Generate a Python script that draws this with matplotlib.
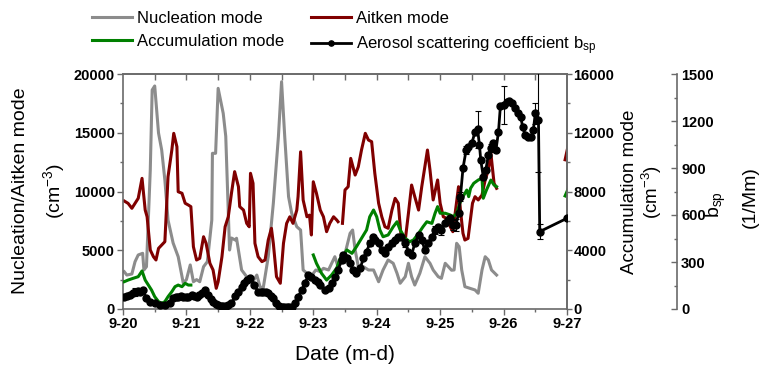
import numpy as np
import matplotlib
matplotlib.use('Agg')
import matplotlib.pyplot as plt

plt.rcParams['font.family'] = ['Liberation Sans', 'DejaVu Sans']
plt.rcParams['mathtext.default'] = 'regular'

# time in days after 9-20 00:00
nuc_t = [0.02, 0.06, 0.14, 0.19, 0.24, 0.31, 0.33, 0.37, 0.43, 0.46, 0.50, 0.56, 0.61, 0.66,
         0.71, 0.79, 0.87, 0.95, 1.00, 1.06, 1.11, 1.16, 1.21, 1.27, 1.33, 1.40, 1.41, 1.46,
         1.50, 1.58, 1.62, 1.68, 1.71, 1.77, 1.79, 1.87, 1.95, 2.03, 2.11, 2.16, 2.21, 2.29,
         2.37, 2.45, 2.50, 2.55, 2.61, 2.66, 2.74, 2.80, 2.84, 2.90, 2.98, 3.04, 3.11, 3.16,
         3.24, 3.29, 3.34, 3.39, 3.45, 3.50, 3.58, 3.62, 3.66, 3.71, 3.79, 3.87, 3.95, 4.03,
         4.10, 4.18, 4.26, 4.32, 4.37, 4.45, 4.50, 4.55, 4.60, 4.68, 4.76, 4.84, 4.89, 4.97,
         5.02, 5.08, 5.13, 5.18, 5.22, 5.26, 5.30, 5.34, 5.39, 5.47, 5.55, 5.60, 5.66, 5.71,
         5.76, 5.81, 5.89]
nuc_v = [3170, 2890, 2980, 4030, 4600, 4740, 3320, 3600, 11830, 18640, 18980, 14980, 13530, 10980,
         7570, 5620, 4450, 2210, 2500, 3750, 2320, 2500, 2320, 3600, 4030, 7570, 13250, 13250,
         18780, 16650, 14700, 5020, 6040, 5870, 6020, 3320, 2750, 2190, 2890, 1900, 1760, 4450,
         8990, 14660, 19340, 14660, 9560, 8140, 7000, 6720, 3320, 3040, 2890, 3320, 3180, 3460,
         3320, 3890, 4450, 3600, 4740, 4700, 6440, 6720, 5020, 3600, 3600, 3320, 3320, 2320,
         3320, 4170, 3890, 3040, 2190, 2750, 3890, 2750, 2040, 3040, 4450, 3890, 3320, 2750,
         2610, 3890, 3600, 3300, 3320, 5590, 5300, 3320, 1900, 1760, 1620, 1340, 3320, 4450,
         4170, 3320, 2890]

ait_t = [0.02, 0.08, 0.14, 0.19, 0.24, 0.30, 0.35, 0.38, 0.43, 0.48, 0.52, 0.56, 0.61, 0.66,
         0.71, 0.77, 0.80, 0.85, 0.87, 0.93, 0.98, 1.03, 1.07, 1.11, 1.16, 1.21, 1.27, 1.31,
         1.37, 1.42, 1.47, 1.50, 1.56, 1.61, 1.66, 1.71, 1.76, 1.82, 1.84, 1.90, 1.95, 1.99,
         2.01, 2.05, 2.08, 2.13, 2.19, 2.24, 2.29, 2.34, 2.37, 2.42, 2.48, 2.53, 2.58, 2.63,
         2.68, 2.74, 2.76, 2.80, 2.84, 2.90, 2.94, 2.97, 3.00, 3.05, 3.11, 3.16, 3.21, 3.26,
         3.32, 3.37, 3.39, 3.42,
         3.46, 3.50, 3.55, 3.59, 3.66, 3.71, 3.76, 3.82, 3.87, 3.92, 3.97, 4.03, 4.08, 4.13,
         4.18, 4.24, 4.29, 4.34, 4.38, 4.45, 4.50, 4.55, 4.60, 4.66, 4.71, 4.76, 4.80, 4.84,
         4.89, 4.96, 5.00, 5.05, 5.10, 5.16, 5.20, 5.23, 5.29, 5.32, 5.36, 5.39, 5.44, 5.47,
         5.51, 5.55, 5.60, 5.66, 5.71, 5.76, 5.80, 5.85, 5.89, 6.00,
         6.97, 7.03]
ait_v = [9190, 8990, 8570, 8990, 9420, 11120, 8420, 7850, 5020, 4450, 4170, 5160, 5450, 5730,
         11260, 13530, 14950, 13810, 9980, 9850, 9000, 8850, 8710, 5300, 4170, 4310, 6150, 5590,
         3890, 3320, 1760, 2320, 4450, 7000, 7850, 9850, 11690, 10410, 8710, 8420, 7290, 7000,
         11550, 10700, 5590, 4450, 4030, 4170, 5870, 6870, 5590, 2750, 2190, 5590, 7290, 7850,
         7290, 8420, 9560, 13380, 9280, 7850, 7990, 6300, 10830, 9850, 8420, 7850, 6580, 7290,
         7850, 7570, 7430, np.nan,
         7290, 10130, 10410, 12820, 11400, 12110, 13530, 14950, 14380, 14240, 11550, 9000, 7850, 7000,
         6870, 8420, 9420, 9000, 6440, 5870, 8140, 10550, 9560, 8420, 10410, 12110, 13530, 11830,
         9280, 10980, 9000, 7850, 7720, 7000, 6580, 7850, 10410, 8420, 6440, 5870, 6010, 7290,
         9000, 9560, 9280, 9700, 10980, 11830, 13250, 10700, 10270, np.nan,
         12700, 14200]

acc_t = [0.02, 0.08, 0.16, 0.24, 0.30, 0.35, 0.40, 0.45, 0.50, 0.56, 0.61, 0.66, 0.71, 0.77,
         0.82, 0.87, 0.93, 0.98, 1.03, 1.07, 2.00,
         3.00, 3.05, 3.13, 3.21, 3.29, 3.37, 3.42, 3.48, 3.53, 3.61, 3.68, 3.76, 3.84, 3.89,
         3.95, 4.00, 4.05, 4.10, 4.18, 4.26, 4.32, 4.37, 4.45, 4.52, 4.58, 4.66, 4.73, 4.79,
         4.87, 4.92, 4.96, 5.00, 5.08, 5.16, 5.21, 5.26, 5.31, 5.36, 5.42, 5.45, 5.48, 5.53,
         5.60, 5.66, 5.68, 5.73, 5.80, 5.85, 5.89, 6.00,
         6.97, 7.03]
acc_v = [1860, 1970, 2090, 2200, 2590, 1970, 1630, 1290, 840, 500, 390, 500, 840, 1180,
         1520, 1630, 1520, 1750, 1630, 1630, np.nan,
         3680, 3110, 2430, 1970, 2320, 2790, 3400, 3700, 4020, 3790, 4240, 4810, 5380, 6280,
         6740, 6280, 5380, 4920, 5040, 5600, 5940, 5380, 4810, 4580, 4700, 5150, 5600, 5940,
         5830, 6520, 6970, 6520, 6520, 6400, 6280, 6520, 7200, 7650, 8100, 7650, 8220, 8560,
         8780, 8900, 7540, 8100, 8780, 8440, 8330, np.nan,
         7700, 8300]

bsp_t = [0.02, 0.07, 0.11, 0.15, 0.19, 0.23, 0.27, 0.32, 0.36, 0.43, 0.50, 0.58, 0.66, 0.74,
         0.79, 0.83, 0.87, 0.91, 0.95, 0.99, 1.03, 1.08, 1.12, 1.16, 1.20, 1.24, 1.29, 1.34,
         1.38, 1.42, 1.46, 1.50, 1.54, 1.58, 1.62, 1.66, 1.71, 1.77, 1.82, 1.87, 1.91, 1.95,
         2.01, 2.07, 2.13, 2.17, 2.21, 2.25, 2.29, 2.33, 2.37, 2.42, 2.46, 2.50, 2.54, 2.58,
         2.62, 2.66, 2.71, 2.76, 2.82, 2.87, 2.92, 2.97, 3.03, 3.07, 3.11, 3.18, 3.24, 3.29,
         3.34, 3.39, 3.45, 3.47, 3.53, 3.58, 3.63, 3.68, 3.74, 3.79, 3.84, 3.89, 3.94, 3.97,
         4.03, 4.08, 4.13, 4.18, 4.24, 4.29, 4.34, 4.39, 4.45, 4.50, 4.55, 4.60, 4.66, 4.71,
         4.76, 4.81, 4.87, 4.92, 4.97, 5.02, 5.08, 5.13, 5.16, 5.21, 5.25, 5.29, 5.32, 5.36,
         5.41, 5.44, 5.50, 5.55, 5.59, 5.62, 5.64, 5.68, 5.72, 5.76, 5.80, 5.84, 5.88, 5.92,
         5.95, 6.00, 6.05, 6.09, 6.13, 6.18, 6.23, 6.27, 6.30, 6.34, 6.39, 6.44, 6.47, 6.50,
         6.55, 6.57, 7.00]
bsp_v = [78, 82, 89, 100, 110, 112, 110, 121, 68, 47, 36, 26, 26, 36,
         68, 75, 79, 80, 79, 78, 79, 89, 84, 79, 90, 100, 121, 89,
         65, 47, 35, 26, 22, 19, 22, 26, 36, 80, 110, 142, 165, 185,
         196, 153, 110, 108, 110, 106, 100, 85, 68, 36, 22, 15, 12, 11,
         12, 15, 36, 79, 121, 164, 217, 206, 185, 170, 153, 121, 132, 164,
         206, 249, 313, 345, 324, 292, 249, 228, 260, 324, 366, 419, 461, 440,
         419, 377, 356, 398, 419, 440, 461, 461, 419, 366, 345, 419, 472, 440,
         377, 419, 461, 504, 525, 504, 547, 568, 579, 536, 536, 611, 717, 898,
         1015, 1036, 1058, 1132, 1147, 1047, 951, 845, 887, 983, 1026, 1058, 1015, 1132,
         1296, 1302, 1323, 1330, 1313, 1281, 1249, 1228, 1164, 1111, 1100, 1100, 1143, 1249,
         1207, 494, 579]

# error bars on a few b_sp points
err_t = [0.19, 3.45, 3.89, 4.24, 4.45, 4.92, 5.02, 5.21, 5.25, 5.32, 5.41, 5.59, 5.80, 6.00,
         6.50, 6.55, 6.57]
err_v = [25, 20, 20, 20, 25, 25, 30, 30, 40, 30, 25, 120, 25, 120,
         65, 330, 50]

date_labels = ['9-20', '9-21', '9-22', '9-23', '9-24', '9-25', '9-26', '9-27']

bsp_t = np.array(bsp_t)
bsp_err = np.zeros(len(bsp_t))
for t, e in zip(err_t, err_v):
    bsp_err[np.argmin(np.abs(bsp_t - t))] = e

W, H = 766, 368
spine_c = '#6a6a6a'
fig = plt.figure(figsize=(W / 100, H / 100), dpi=100)
ax = fig.add_axes([123 / W, 1 - 309 / H, 444 / W, 235 / H])

l_nuc, = ax.plot(nuc_t, nuc_v, color='#8c8c8c', lw=2.2)
l_ait, = ax.plot(ait_t, ait_v, color='#800000', lw=2.2)
ax.set_xlim(0, 7)
ax.set_ylim(0, 20000)

ax2 = ax.twinx()
l_acc, = ax2.plot(acc_t, acc_v, color='#008000', lw=2.2)
ax2.set_ylim(0, 16000)

ax3 = ax.twinx()
ax3.spines['right'].set_position(('axes', (677 - 123) / 444))
eb = ax3.errorbar(bsp_t, bsp_v, yerr=bsp_err, color='black', lw=2.0, marker='o', ms=5,
                  ecolor='black', elinewidth=0.8, capsize=2.5, capthick=0.8)
ax3.set_ylim(0, 1500)
for s in ['left', 'top', 'bottom']:
    ax3.spines[s].set_visible(False)
    ax2.spines[s].set_visible(False)

for a in (ax, ax2, ax3):
    for s in a.spines.values():
        s.set_color(spine_c)
        s.set_linewidth(1.2)

ax.set_xticks(range(8))
ax.set_xticklabels(date_labels)
ax.set_xticks(np.arange(0.5, 7, 1), minor=True)
ax.tick_params(axis='x', which='major', direction='out', length=4, width=1, color=spine_c, pad=2)
ax.tick_params(axis='x', which='minor', direction='out', length=2.5, width=1, color=spine_c)
ax.set_yticks(range(0, 20001, 5000))
ax.set_yticks(range(2500, 20000, 5000), minor=True)
ax.tick_params(axis='y', which='major', direction='out', length=4, width=1, color=spine_c, pad=2)
ax.tick_params(axis='y', which='minor', direction='out', length=2.5, width=1, color=spine_c)

top = ax.secondary_xaxis('top')
top.set_xticks(np.arange(0.5, 7, 0.5))
top.tick_params(direction='in', length=4, width=1, color=spine_c, labeltop=False)
top.spines['top'].set_color(spine_c)
top.spines['top'].set_linewidth(1.2)

ax2.set_yticks(range(0, 16001, 4000))
ax2.set_yticks(range(2000, 16000, 4000), minor=True)
ax2.tick_params(axis='y', which='major', direction='out', length=3.5, width=1, color=spine_c, pad=1)
ax2.tick_params(axis='y', which='minor', direction='out', length=2.5, width=1, color=spine_c)

ax3.set_yticks(range(0, 1501, 300))
ax3.set_yticks(range(150, 1500, 300), minor=True)
ax3.tick_params(axis='y', which='major', direction='in', length=4, width=1, color=spine_c, pad=3)
ax3.tick_params(axis='y', which='minor', direction='in', length=2.5, width=1, color=spine_c)

for a in (ax, ax2, ax3):
    for lab in a.get_xticklabels() + a.get_yticklabels():
        lab.set_fontweight('bold')
        lab.set_fontsize(10.5)

# axis titles
def px(x, y):
    return x / W, 1 - y / H

fig.text(*px(21, 191), 'Nucleation/Aitken mode', rotation=90, ha='center', va='center', fontsize=14)
fig.text(*px(54, 191), '(cm$^{-3}$)', rotation=90, ha='center', va='center', fontsize=14)
fig.text(*px(630, 192), 'Accumulation mode', rotation=90, ha='center', va='center', fontsize=13.5)
fig.text(*px(652, 192), '(cm$^{-3}$)', rotation=90, ha='center', va='center', fontsize=13.5)
fig.text(*px(716, 205), 'b$_{sp}$', rotation=90, ha='center', va='center', fontsize=14)
fig.text(*px(750, 197), '(1/Mm)', rotation=90, ha='center', va='center', fontsize=14)
fig.text(*px(345, 355), 'Date (m-d)', ha='center', va='center', fontsize=15)

bsp_line = eb.lines[0]
fig.legend([l_nuc, l_acc, l_ait, bsp_line],
           ['Nucleation mode', 'Accumulation mode', 'Aitken mode',
            'Aerosol scattering coefficient b$_{sp}$'],
           ncol=2, loc='upper left', bbox_to_anchor=(92 / W, 1 - 11 / H), frameon=False,
           fontsize=12, handlelength=2.4, handletextpad=0.3, columnspacing=1.6,
           labelspacing=0.5, borderpad=0, borderaxespad=0, markerscale=0.75)

fig.savefig('out.png', dpi=100)
